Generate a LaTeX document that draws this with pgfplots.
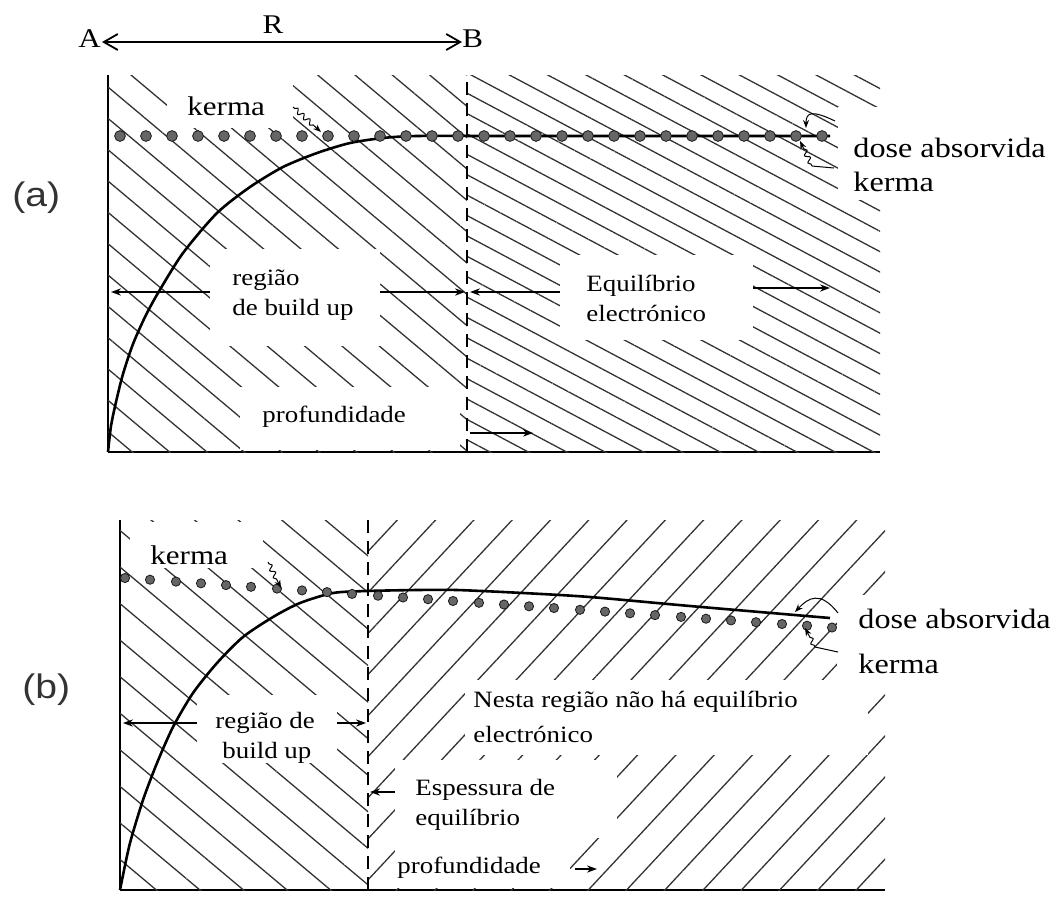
\documentclass[border=0pt]{standalone}
\usepackage{fontspec}
\setmainfont{Liberation Serif}
\newfontfamily\panelfont{Liberation Sans}
\usepackage{graphicx}
\usepackage{pgfplots}
\pgfplotsset{compat=1.18}
\usetikzlibrary{patterns.meta,arrows.meta,decorations.pathmorphing}

% labels are set slightly wide
\newcommand{\wide}[1]{\scalebox{1.15}[1]{#1}}

\tikzset{
  hatch/.style 2 args={pattern={Lines[angle=#1,distance=#2,line width=0.65pt]}, pattern color=black!80},
  big/.style={font=\fontsize{13.5}{15}\selectfont, inner sep=0pt},
  side/.style={font=\fontsize{14}{16}\selectfont, inner sep=0pt},
  lbl/.style={font=\fontsize{11.7}{13}\selectfont, inner sep=0pt},
  arr/.style={line width=0.6pt, -{Stealth[length=5pt,width=3.6pt]}},
  curly/.style={line width=0.5pt, decorate,
    decoration={snake, amplitude=1.2pt, segment length=4pt, pre length=1pt, post length=4pt}},
}

\pgfplotsset{
  panel/.style={
    scale only axis, clip=false,
    axis x line=bottom, axis y line=left,
    axis line style={-, line width=0.9pt},
    ticks=none,
  },
  kerma/.style={only marks, mark=*, mark size=#1,
    mark options={fill=black!60, draw=black!90, line width=0.4pt}},
  dose/.style={line width=1.3pt, black, smooth, tension=0.45, mark=none},
}

\begin{document}
\begin{tikzpicture}
\useasboundingbox (0,0) rectangle (532pt,-452.5pt);

% ---------------- (a) ----------------
\begin{axis}[panel, at={(54pt,-226pt)}, anchor=south west,
  width=386pt, height=188.5pt,
  xmin=0, xmax=772, ymin=0, ymax=377]
  \fill[hatch={-40}{12pt}] (axis cs:0,0) rectangle (axis cs:359,377);
  \fill[hatch={-28}{9pt}] (axis cs:359,0) rectangle (axis cs:772,377);
  \draw[dash pattern=on 6.5pt off 4pt, line width=0.7pt] (axis cs:359,0) -- (axis cs:359,377);
  \addplot[kerma=2.7pt] coordinates {
    (12,316) (38,316) (64,316) (90,316) (116,316) (142,316) (168,316)
    (194,316) (220,316) (246,316) (272,316) (298,316) (324,316) (350,316)
    (376,316) (402,316) (428,316) (454,316) (480,316) (506,316) (532,316)
    (558,316) (584,316) (610,316) (636,316) (662,316) (688,316) (714,316)};
  \addplot[dose] coordinates {
    (0,0) (3,26) (8,50) (15,78) (25,108) (37,135) (50,159) (75,199)
    (109,239) (142,265) (175,285) (209,299) (242,309) (275,314) (309,316)
    (400,316) (722,316)};
\end{axis}

% ---------------- (b) ----------------
\begin{axis}[panel, at={(60pt,-445pt)}, anchor=south west,
  width=382.5pt, height=185pt,
  xmin=0, xmax=765, ymin=0, ymax=370]
  \fill[hatch={-40}{14pt}] (axis cs:0,0) rectangle (axis cs:248,370);
  \fill[hatch={47}{14pt}] (axis cs:248,0) rectangle (axis cs:765,370);
  \draw[dash pattern=on 6.5pt off 4pt, line width=0.7pt] (axis cs:248,0) -- (axis cs:248,370);
  \addplot[kerma=2.3pt] coordinates {
    (5,312) (30,310.3) (56,308.4) (81,306.7) (106,304.9) (131,303.2)
    (157,301.4) (182,299.6) (207,297.9) (232,296.1) (258,294.3) (283,292.5)
    (308,290.8) (333,289.0) (359,287.2) (384,285.5) (409,283.7) (434,282.0)
    (460,280.2) (485,278.4) (510,276.7) (535,274.9) (561,273.1) (586,271.3)
    (611,269.6) (636,267.8) (662,266.0) (687,264.3) (712,262.5)};
  \addplot[dose] coordinates {
    (0,0) (2,10) (10,47) (23,90) (37,127) (53,163) (73,197) (97,227)
    (123,253) (153,273) (180,287) (213,297) (247,299) (297,300) (337,300)
    (403,297) (470,293) (570,284) (710,272)};
\end{axis}

% labels and arrows, positioned in half-point units from the top left corner
\begin{scope}[x=0.5pt,y=-0.5pt]
% ---------------- (a) ----------------
\node[big, anchor=base west] at (78,47) {\wide{A}};
\node[big, anchor=base] at (273,33) {\wide{R}};
\node[big, anchor=base west] at (462,47) {\wide{B}};
\draw[line width=0.9pt, {Straight Barb[length=7pt,width=8pt]}-{Straight Barb[length=7pt,width=8pt]}]
  (102,42) -- (462,42);

\node[anchor=base west, inner sep=0pt, text=black!80,
  font=\panelfont\fontsize{17}{19}\selectfont] at (12,206) {\wide{(a)}};
\node[anchor=base west, inner sep=0pt, text=black!80,
  font=\panelfont\fontsize{17}{19}\selectfont] at (22,698) {\wide{(b)}};

\fill[white] (167,75) rectangle (293,128);
\node[big, anchor=base west] at (187,115) {\wide{kerma}};
\draw[curly, -{Stealth[length=4pt,width=3pt]}] (293,107) -- (321,132);

\fill[white] (838,107) rectangle (1064,200);
\node[side, anchor=base west] at (853,157) {\wide{dose absorvida}};
\node[side, anchor=base west] at (853,191) {\wide{kerma}};
\draw[line width=0.5pt, -{Stealth[length=4pt,width=3pt]}] (835,121) .. controls (812,110) and (806,112) .. (806,128);
\draw[line width=0.5pt] (834,168) -- (812,166);
\draw[curly, -{Stealth[length=4pt,width=3pt]}] (812,166) -- (800,141);

\fill[white] (210,249) rectangle (380,346);
\node[lbl, anchor=base west] at (232,285) {\wide{região}};
\node[lbl, anchor=base west] at (232,315) {\wide{de build up}};
\draw[arr] (210,292) -- (111,292);
\draw[arr] (380,292) -- (465,292);
\draw[arr] (567,292) -- (470,292);

\fill[white] (560,255) rectangle (753,340);
\node[lbl, anchor=base west] at (586,291) {\wide{Equilíbrio}};
\node[lbl, anchor=base west] at (586,321) {\wide{electrónico}};
\draw[arr] (753,288) -- (830,288);

\fill[white] (240,387) rectangle (460,450);
\node[lbl, anchor=base west] at (262,422) {\wide{profundidade}};
\draw[arr] (470,433) -- (533,433);

% ---------------- (b) ----------------
\begin{scope}
  \clip (130,522) rectangle (263,568);
  \fill[white] (130,522) rectangle (263,568);
  \node[big, anchor=base west] at (150,564) {\wide{kerma}};
\end{scope}
\draw[curly, -{Stealth[length=4pt,width=3pt]}] (268,562) -- (281,588);

\fill[white] (837,595) rectangle (1064,687);
\node[side, anchor=base west] at (858,628) {\wide{dose absorvida}};
\node[side, anchor=base west] at (858,673) {\wide{kerma}};
\draw[line width=0.5pt, -{Stealth[length=4pt,width=3pt]}] (838,613) .. controls (820,590) and (808,598) .. (795,612);
\draw[line width=0.5pt] (838,652) -- (815,647);
\draw[curly, -{Stealth[length=4pt,width=3pt]}] (815,647) -- (805,628);

\fill[white] (465,680) rectangle (868,755);
\node[lbl, anchor=base west] at (473,707) {\wide{Nesta região não há equilíbrio}};
\node[lbl, anchor=base west] at (473,742) {\wide{electrónico}};

\begin{scope}
  \clip (197,695) rectangle (337,763);
  \fill[white] (197,695) rectangle (337,763);
  \node[lbl, anchor=base west] at (215,728) {\wide{região de}};
  \node[lbl, anchor=base west] at (222,758) {\wide{build up}};
\end{scope}
\draw[arr] (197,723) -- (123,723);
\draw[arr] (337,723) -- (366,723);

\fill[white] (395,760) rectangle (617,838);
\fill[white] (395,838) rectangle (570,888);
\node[lbl, anchor=base west] at (415,795) {\wide{Espessura de}};
\node[lbl, anchor=base west] at (415,825) {\wide{equilíbrio}};
\node[lbl, anchor=base west] at (397,873) {\wide{profundidade}};
\draw[arr] (395,792) -- (370,792);
\draw[arr] (575,869) -- (597,869);
\end{scope}

\end{tikzpicture}
\end{document}
